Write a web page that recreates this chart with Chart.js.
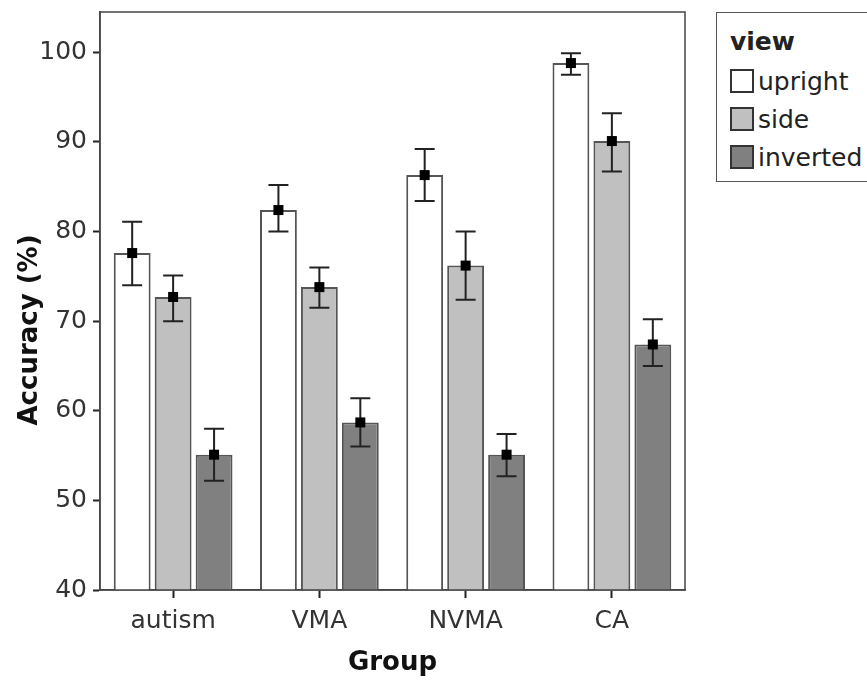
<!DOCTYPE html>
<html>
<head>
<meta charset="utf-8">
<script src="https://cdn.jsdelivr.net/npm/chart.js@4.4.1/dist/chart.umd.min.js"></script>
<style>
  html, body { margin: 0; padding: 0; background: #fff; }
  #wrap { position: relative; width: 867px; height: 680px; }
  #legend {
    position: absolute; left: 716px; top: 12px; width: 160px; height: 170px;
    border: 1px solid #555; background: #fff; box-sizing: border-box;
    font-family: 'DejaVu Sans', sans-serif; font-size: 25px; color: #222;
  }
  #legend .title { position: absolute; left: 13px; top: 14px; font-weight: bold; }
  #legend .item { position: absolute; left: 13px; height: 28px; line-height: 28px; white-space: nowrap; }
  #legend .sw {
    display: inline-block; width: 20px; height: 20px; border: 2px solid #333;
    vertical-align: middle; margin-right: 4px; position: relative; top: -2px;
  }
</style>
</head>
<body>
<div id="wrap">
  <canvas id="chart" width="867" height="680"></canvas>
  <div id="legend"></div>
</div>
<script>
// data
const groups = ['autism', 'VMA', 'NVMA', 'CA'];
const views = ['upright', 'side', 'inverted'];
const viewColors = ['#ffffff', '#c0c0c0', '#808080'];

const upright = [77.6, 82.4, 86.3, 98.8];
const uprightLo = [74.0, 80.0, 83.4, 97.5];
const uprightHi = [81.1, 85.2, 89.2, 99.9];

const side = [72.7, 73.8, 76.2, 90.1];
const sideLo = [70.0, 71.5, 72.4, 86.7];
const sideHi = [75.1, 76.0, 80.0, 93.2];

const inverted = [55.1, 58.7, 55.1, 67.4];
const invertedLo = [52.2, 56.0, 52.7, 65.0];
const invertedHi = [58.0, 61.4, 57.4, 70.2];

const yTicks = [40, 50, 60, 70, 80, 90, 100];

const series = [
  { data: upright, lo: uprightLo, hi: uprightHi },
  { data: side, lo: sideLo, hi: sideHi },
  { data: inverted, lo: invertedLo, hi: invertedHi }
];

const FONT = 'DejaVu Sans';

// whiskers + black square at the mean
const errorBars = {
  id: 'errorBars',
  afterDatasetsDraw(chart) {
    const ctx = chart.ctx;
    const y = chart.scales.y;
    ctx.save();
    series.forEach((s, i) => {
      chart.getDatasetMeta(i).data.forEach((bar, j) => {
        const top = y.getPixelForValue(s.hi[j]);
        const bot = y.getPixelForValue(s.lo[j]);
        const cap = 10;
        ctx.strokeStyle = '#222';
        ctx.lineWidth = 2;
        ctx.beginPath();
        ctx.moveTo(bar.x, top); ctx.lineTo(bar.x, bot);
        ctx.moveTo(bar.x - cap, top); ctx.lineTo(bar.x + cap, top);
        ctx.moveTo(bar.x - cap, bot); ctx.lineTo(bar.x + cap, bot);
        ctx.stroke();
        const m = y.getPixelForValue(s.data[j]);
        ctx.fillStyle = '#000';
        ctx.fillRect(bar.x - 5, m - 5, 10, 10);
      });
    });
    ctx.restore();
  }
};

// box around the plot area, and the y title (sits a bit below the middle in the original)
const frame = {
  id: 'frame',
  afterDraw(chart) {
    const { left, top, right, bottom } = chart.chartArea;
    const ctx = chart.ctx;
    ctx.save();
    ctx.strokeStyle = '#444';
    ctx.lineWidth = 1.5;
    ctx.strokeRect(left, top, right - left, bottom - top);
    ctx.translate(30, 330);
    ctx.rotate(-Math.PI / 2);
    ctx.font = 'bold 26px "DejaVu Sans"';
    ctx.fillStyle = '#111';
    ctx.textAlign = 'center';
    ctx.textBaseline = 'middle';
    ctx.fillText('Accuracy (%)', 0, 0);
    ctx.restore();
  }
};

new Chart(document.getElementById('chart'), {
  type: 'bar',
  data: {
    labels: groups,
    datasets: series.map((s, i) => ({
      label: views[i],
      data: s.data,
      backgroundColor: viewColors[i],
      borderColor: '#555',
      borderWidth: 2,
      borderSkipped: false,
      categoryPercentage: 0.84,
      barPercentage: 0.9
    }))
  },
  options: {
    responsive: false,
    animation: false,
    layout: { padding: { top: 12, right: 182, left: 0, bottom: 0 } },
    plugins: { legend: { display: false }, tooltip: { enabled: false } },
    scales: {
      x: {
        grid: { display: true, drawOnChartArea: false, offset: false, tickLength: 8, tickWidth: 2, tickColor: '#222' },
        border: { display: true, color: '#444', width: 1.5 },
        ticks: { color: '#333', font: { family: FONT, size: 25 }, padding: 8 },
        title: { display: true, text: 'Group', color: '#111', font: { family: FONT, size: 26, weight: 'bold' }, padding: { top: 0, bottom: 1 } },
        afterFit(scale) { scale.height = 90; }
      },
      y: {
        min: 40,
        max: 104.5,
        afterBuildTicks(scale) { scale.ticks = yTicks.map(v => ({ value: v })); },
        grid: { display: true, drawOnChartArea: false, tickLength: 7, tickWidth: 2, tickColor: '#222' },
        border: { display: true, color: '#444', width: 1.5 },
        ticks: { color: '#333', font: { family: FONT, size: 25 }, padding: 6 },
        title: { display: false },
        afterFit(scale) {
          scale.width = 100;
          scale.paddingTop = 0;
          scale.paddingBottom = 0;
        }
      }
    }
  },
  plugins: [errorBars, frame]
});

// legend
const legend = document.getElementById('legend');
legend.innerHTML = '<div class="title">view</div>' + views.map((v, i) =>
  `<div class="item" style="top:${55 + i * 38}px"><span class="sw" style="background:${viewColors[i]}"></span>${v}</div>`
).join('');
</script>
</body>
</html>
